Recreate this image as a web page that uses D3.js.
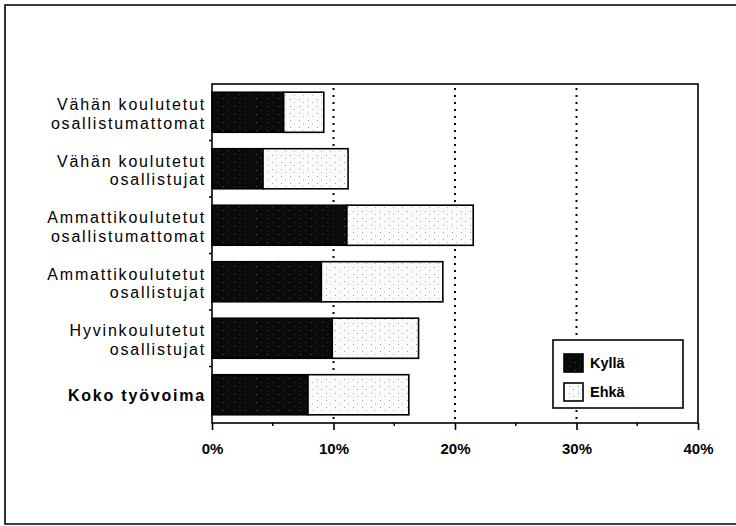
<!DOCTYPE html>
<html><head><meta charset="utf-8">
<script src="https://cdn.jsdelivr.net/npm/d3@7"></script>
<style>
html,body{margin:0;padding:0;background:#fff;}
svg{display:block;}
text{font-family:"Liberation Sans",Arial,Helvetica,sans-serif;fill:#000;}
</style></head>
<body>
<svg id="chart" width="736" height="526"></svg>
<script>
const categories = [
  "Vähän koulutetut|osallistumattomat",
  "Vähän koulutetut|osallistujat",
  "Ammattikoulutetut|osallistumattomat",
  "Ammattikoulutetut|osallistujat",
  "Hyvinkoulutetut|osallistujat",
  "Koko työvoima"
];
const seriesNames = ["Kyllä", "Ehkä"];
const kylla = [5.9, 4.2, 11.1, 9.0, 9.9, 7.9];
const ehka  = [3.3, 7.0, 10.4, 10.0, 7.1, 8.3];
const xTicks = [0, 10, 20, 30, 40];
const gridTicks = [10, 20, 30];
const minorTicks = [5, 15, 25, 35];

const svg = d3.select("#chart");
const L = 212, R = 698, T = 84, B = 423;

const x = d3.scaleLinear().domain([0, 40]).range([L, R]);
const y = d3.scaleBand().domain(categories).range([T, B]).paddingInner(0.29).paddingOuter(0.145);

// outer frame
svg.append("path").attr("d", `M740,5 H5 V524 H740`).attr("fill", "none")
  .attr("stroke", "#000").attr("stroke-width", 1.6);

// dotted gridlines
svg.append("g").selectAll("line").data(gridTicks).join("line")
  .attr("x1", d => x(d)).attr("x2", d => x(d))
  .attr("y1", T + 4).attr("y2", B)
  .attr("stroke", "#000").attr("stroke-width", 2)
  .attr("stroke-dasharray", "2,5");

// textures
const defs = svg.append("defs");
const pat = defs.append("pattern").attr("id", "dots").attr("patternUnits", "userSpaceOnUse")
  .attr("width", 9).attr("height", 7);
pat.append("rect").attr("width", 9).attr("height", 7).attr("fill", "#fbfbfb");
pat.append("rect").attr("x", 2).attr("y", 1).attr("width", 1).attr("height", 1).attr("fill", "#9a9a9a");
pat.append("rect").attr("x", 6).attr("y", 4).attr("width", 1).attr("height", 1).attr("fill", "#b5b5b5");
const patK = defs.append("pattern").attr("id", "dark").attr("patternUnits", "userSpaceOnUse")
  .attr("width", 11).attr("height", 8);
patK.append("rect").attr("width", 11).attr("height", 8).attr("fill", "#0a0a0a");
patK.append("rect").attr("x", 3).attr("y", 2).attr("width", 1).attr("height", 1).attr("fill", "#555");
patK.append("rect").attr("x", 8).attr("y", 6).attr("width", 1).attr("height", 1).attr("fill", "#444");

// bars
const rows = categories.map((c, i) => ({c, k: kylla[i], e: ehka[i]}));
const g = svg.append("g");
g.selectAll("rect.k").data(rows).join("rect").attr("class", "k")
  .attr("x", x(0)).attr("y", d => y(d.c))
  .attr("width", d => x(d.k) - x(0)).attr("height", y.bandwidth())
  .attr("fill", "url(#dark)").attr("stroke", "#000").attr("stroke-width", 1.5);
g.selectAll("rect.e").data(rows).join("rect").attr("class", "e")
  .attr("x", d => x(d.k)).attr("y", d => y(d.c))
  .attr("width", d => x(d.k + d.e) - x(d.k)).attr("height", y.bandwidth())
  .attr("fill", "url(#dots)").attr("stroke", "#000").attr("stroke-width", 1.6);

// plot frame
svg.append("rect").attr("x", L).attr("y", T).attr("width", R - L).attr("height", B - T)
  .attr("fill", "none").attr("stroke", "#000").attr("stroke-width", 1.6);

// x axis
const xAxis = svg.append("g").attr("transform", `translate(0,${B})`)
  .call(d3.axisBottom(x).tickValues(xTicks).tickSize(7).tickPadding(13).tickFormat(d => d + "%"));
xAxis.select(".domain").remove();
xAxis.selectAll("line").attr("stroke", "#000").attr("stroke-width", 1.6);
xAxis.selectAll("text").attr("font-size", 15).attr("font-weight", "bold")
  .attr("font-family", "'Liberation Sans',Arial,sans-serif");
svg.append("g").selectAll("line").data(minorTicks).join("line")
  .attr("x1", d => x(d)).attr("x2", d => x(d)).attr("y1", B).attr("y2", B + 3)
  .attr("stroke", "#000").attr("stroke-width", 1.5);

// y ticks at band boundaries
const yB = d3.range(1, categories.length).map(i => (y(categories[i]) + y(categories[i - 1]) + y.bandwidth()) / 2);
svg.append("g").selectAll("line").data(yB).join("line")
  .attr("x1", L - 3).attr("x2", L).attr("y1", d => d).attr("y2", d => d)
  .attr("stroke", "#000").attr("stroke-width", 1.5);

// category labels
const lab = svg.append("g");
rows.forEach((d, i) => {
  const cy = y(d.c) + y.bandwidth() / 2;
  const lines = d.c.split("|");
  const t = lab.append("text").attr("text-anchor", "end").attr("font-size", 16)
    .attr("letter-spacing", 1.8);
  if (lines.length === 1) {
    t.attr("font-weight", "bold").attr("x", 206).attr("y", cy + 6).text(lines[0]);
  } else {
    t.append("tspan").attr("x", 206).attr("y", cy - 2).text(lines[0]);
    t.append("tspan").attr("x", 206).attr("y", cy + 16.5).text(lines[1]);
  }
});

// legend
const lg = svg.append("g");
lg.append("rect").attr("x", 553).attr("y", 340).attr("width", 130).attr("height", 68)
  .attr("fill", "#fff").attr("stroke", "#000").attr("stroke-width", 1.6);
const fills = ["url(#dark)", "url(#dots)"];
seriesNames.forEach((s, i) => {
  lg.append("rect").attr("x", 564).attr("y", 354 + i * 29).attr("width", 19).attr("height", 18)
    .attr("fill", fills[i]).attr("stroke", "#000").attr("stroke-width", 1.6);
  lg.append("text").attr("x", 590).attr("y", 368 + i * 29).attr("font-size", 14.5)
    .attr("font-weight", "bold").text(s);
});
</script>
</body></html>
